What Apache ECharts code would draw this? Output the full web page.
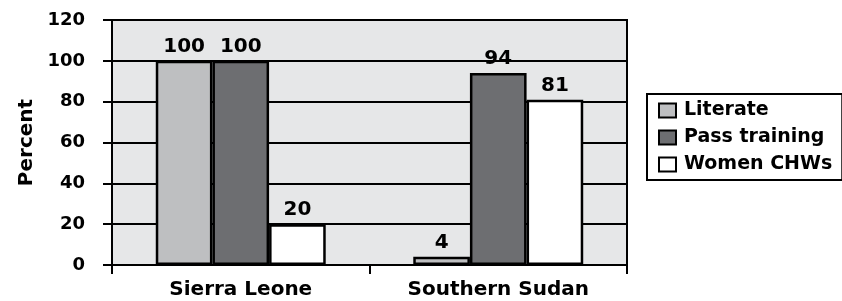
<!DOCTYPE html>
<html>
<head>
<meta charset="utf-8">
<script src="https://cdn.jsdelivr.net/npm/echarts@6/dist/echarts.min.js"></script>
<style>
  html, body { margin: 0; padding: 0; background: #fff; }
  #main { width: 842px; height: 301px; }
</style>
</head>
<body>
<div id="main"></div>
<script>
// 数据
var categories = ['Sierra Leone', 'Southern Sudan'];
var seriesNames = ['Literate', 'Pass training', 'Women CHWs'];
var literate = [100, 4];
var passTraining = [100, 94];
var womenCHWs = [20, 81];
var colors = ['#bebfc1', '#6d6e71', '#ffffff'];

var font = 'DejaVu Sans';

function bar(name, data, color) {
  return {
    name: name,
    type: 'bar',
    data: data,
    barGap: 0,
    barCategoryGap: '34%',
    itemStyle: { color: color, borderColor: '#000', borderWidth: 2.5 },
    label: {
      show: true,
      position: 'top',
      distance: 4,
      color: '#000',
      fontFamily: font,
      fontWeight: 'bold',
      fontSize: 20
    }
  };
}

var myChart = echarts.init(document.getElementById('main'));
myChart.setOption({
  animation: false,
  grid: {
    left: 112, right: 215, top: 20, bottom: 36,
    show: true,
    backgroundColor: '#e6e7e8',
    borderColor: '#000',
    borderWidth: 2
  },
  legend: {
    orient: 'vertical',
    left: 647,
    top: 94,
    data: seriesNames,
    icon: 'rect',
    itemWidth: 17,
    itemHeight: 14,
    itemGap: 8,
    padding: [7, 10, 6, 11],
    borderColor: '#000',
    borderWidth: 2,
    backgroundColor: '#fff',
    textStyle: {
      color: '#000',
      fontFamily: font,
      fontWeight: 'bold',
      fontSize: 19,
      lineHeight: 19,
      padding: [0, 0, 0, 3]
    }
  },
  xAxis: {
    type: 'category',
    data: categories,
    axisLine: { lineStyle: { color: '#000', width: 2 } },
    axisTick: { show: true, length: 9, lineStyle: { color: '#000', width: 2 } },
    axisLabel: {
      margin: 15,
      color: '#000',
      fontFamily: font,
      fontWeight: 'bold',
      fontSize: 20
    }
  },
  yAxis: {
    type: 'value',
    min: 0,
    max: 120,
    interval: 20,
    name: 'Percent',
    nameLocation: 'middle',
    nameGap: 66,
    nameTextStyle: {
      color: '#000',
      fontFamily: font,
      fontWeight: 'bold',
      fontSize: 20
    },
    axisLine: { show: true, lineStyle: { color: '#000', width: 2 } },
    axisTick: { show: true, length: 9, lineStyle: { color: '#000', width: 2 } },
    splitLine: { lineStyle: { color: '#000', width: 2 } },
    axisLabel: {
      margin: 27,
      color: '#000',
      fontFamily: font,
      fontWeight: 'bold',
      fontSize: 18
    }
  },
  series: [
    bar(seriesNames[0], literate, colors[0]),
    bar(seriesNames[1], passTraining, colors[1]),
    bar(seriesNames[2], womenCHWs, colors[2])
  ]
});
</script>
</body>
</html>
